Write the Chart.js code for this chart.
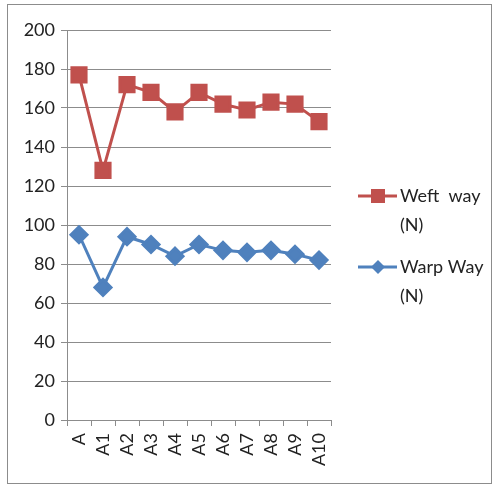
<!DOCTYPE html>
<html>
<head>
<meta charset="utf-8">
<script src="https://cdn.jsdelivr.net/npm/chart.js@4/dist/chart.umd.min.js"></script>
<style>
  html, body { margin: 0; padding: 0; background: #fff; }
  #wrap { width: 498px; height: 486px; position: relative; }
</style>
</head>
<body>
<div id="wrap"><canvas id="c" width="498" height="486"></canvas></div>
<script>
// Sample categories
const categories = ['A', 'A1', 'A2', 'A3', 'A4', 'A5', 'A6', 'A7', 'A8', 'A9', 'A10'];
// Tensile strength, weft direction (N)
const weftWay = [177, 128, 172, 168, 158, 168, 162, 159, 163, 162, 153];
// Tensile strength, warp direction (N)
const warpWay = [95, 68, 94, 90, 84, 90, 87, 86, 87, 85, 82];
// Legend text, one entry per line
const weftLabel = ['Weft  way', '(N)'];
const warpLabel = ['Warp Way', '(N)'];

const RED = '#C0504D';
const BLUE = '#4F81BD';
const FONT = 'Lato, "Liberation Sans", sans-serif';

// Outer frame and white background
const framePlugin = {
  id: 'frame',
  beforeDraw(chart) {
    const ctx = chart.ctx;
    ctx.save();
    ctx.fillStyle = '#fff';
    ctx.fillRect(0, 0, chart.width, chart.height);
    ctx.strokeStyle = '#8c8c8c';
    ctx.lineWidth = 1;
    ctx.strokeRect(7.5, 4.5, 484, 479);
    ctx.restore();
  }
};

// Legend on the right with two-line labels
const sideLegend = {
  id: 'sideLegend',
  afterDraw(chart) {
    const ctx = chart.ctx;
    const items = [
      { label: weftLabel, color: RED, style: 'rect', y: 196 },
      { label: warpLabel, color: BLUE, style: 'diamond', y: 267 }
    ];
    ctx.save();
    ctx.font = '18px ' + FONT;
    ctx.textBaseline = 'middle';
    items.forEach(it => {
      ctx.strokeStyle = it.color;
      ctx.lineWidth = 3;
      ctx.beginPath();
      ctx.moveTo(358, it.y);
      ctx.lineTo(397, it.y);
      ctx.stroke();
      ctx.fillStyle = it.color;
      if (it.style === 'rect') {
        ctx.fillRect(371, it.y - 7, 14, 14);
      } else {
        ctx.beginPath();
        ctx.moveTo(378, it.y - 7);
        ctx.lineTo(385, it.y);
        ctx.lineTo(378, it.y + 7);
        ctx.lineTo(371, it.y);
        ctx.closePath();
        ctx.fill();
      }
      ctx.fillStyle = '#222';
      it.label.forEach((line, i) => ctx.fillText(line, 400, it.y + i * 29));
    });
    ctx.restore();
  }
};

new Chart(document.getElementById('c'), {
  type: 'line',
  data: {
    labels: categories,
    datasets: [
      {
        label: weftLabel.join(' '),
        data: weftWay,
        borderColor: RED,
        backgroundColor: RED,
        borderWidth: 3,
        pointStyle: 'rect',
        pointRadius: 10,
        pointHoverRadius: 10,
        tension: 0
      },
      {
        label: warpLabel.join(' '),
        data: warpWay,
        borderColor: BLUE,
        backgroundColor: BLUE,
        borderWidth: 3,
        pointStyle: 'rectRot',
        pointRadius: 8,
        pointHoverRadius: 8,
        tension: 0
      }
    ]
  },
  options: {
    responsive: false,
    animation: false,
    layout: { padding: { top: 30, right: 167, bottom: 4, left: 0 } },
    plugins: { legend: { display: false }, tooltip: { enabled: false } },
    scales: {
      x: {
        offset: true,
        grid: {
          offset: true,
          drawOnChartArea: false,
          drawTicks: true,
          tickLength: 6,
          color: '#8c8c8c'
        },
        border: { color: '#8c8c8c' },
        ticks: {
          color: '#222',
          font: { family: FONT, size: 18 },
          minRotation: 90,
          maxRotation: 90,
          autoSkip: false,
          padding: 7
        },
        afterFit(scale) { scale.height = 62; }
      },
      y: {
        min: 0,
        max: 200,
        ticks: {
          stepSize: 20,
          color: '#222',
          font: { family: FONT, size: 18 },
          padding: 6
        },
        grid: { color: '#8c8c8c', tickLength: 6 },
        border: { color: '#8c8c8c' },
        afterFit(scale) { scale.width = 67; }
      }
    }
  },
  plugins: [framePlugin, sideLegend]
});
</script>
</body>
</html>
